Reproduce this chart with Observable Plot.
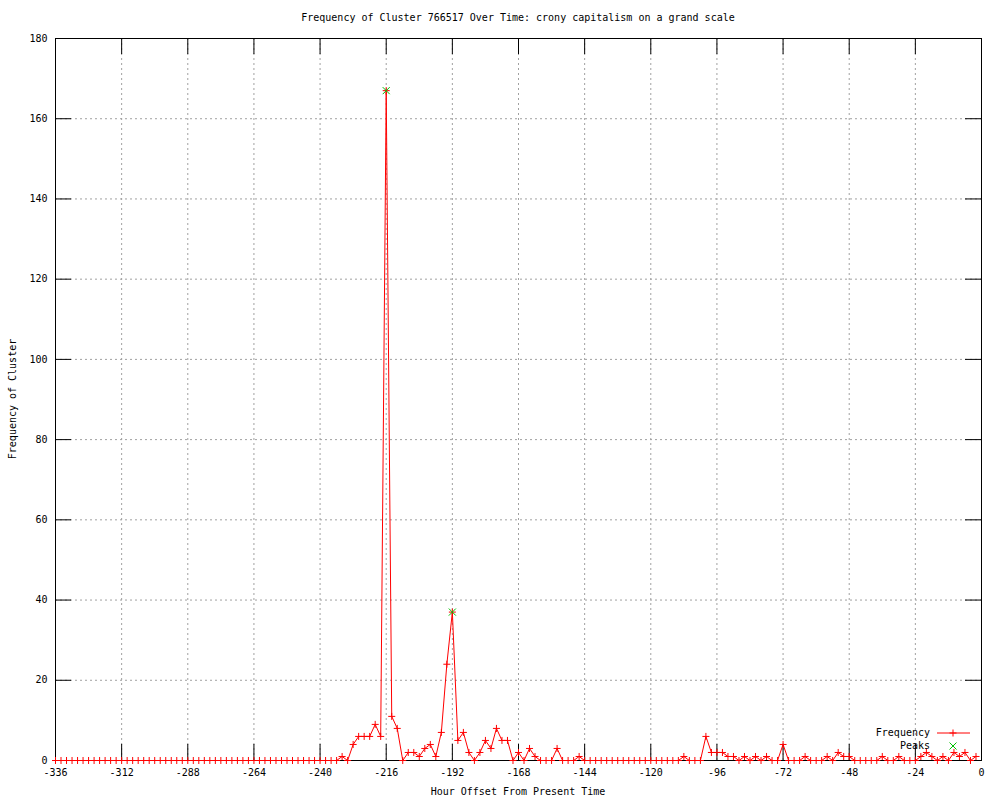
<!DOCTYPE html>
<html>
<head>
<meta charset="utf-8">
<script src="https://cdn.jsdelivr.net/npm/d3@7"></script>
<script src="https://cdn.jsdelivr.net/npm/@observablehq/plot@0.6"></script>
<style>
  html, body { margin: 0; padding: 0; background: #fff; }
  #chart svg { display: block; }
</style>
</head>
<body>
<div id="chart"></div>
<script>
const titleText = "Frequency of Cluster 766517 Over Time: crony capitalism on a grand scale";
const xLabel = "Hour Offset From Present Time";
const yLabel = "Frequency of Cluster";

const hours = [
  -336,-334,-332,-330,-328,-326,-324,-322,-320,-318,-316,-314,
  -312,-310,-308,-306,-304,-302,-300,-298,-296,-294,-292,-290,
  -288,-286,-284,-282,-280,-278,-276,-274,-272,-270,-268,-266,
  -264,-262,-260,-258,-256,-254,-252,-250,-248,-246,-244,-242,
  -240,-238,-236,-234,-232,-230,-228,-226,-224,-222,-220,-218,
  -216,-214,-212,-210,-208,-206,-204,-202,-200,-198,-196,-194,
  -192,-190,-188,-186,-184,-182,-180,-178,-176,-174,-172,-170,
  -168,-166,-164,-162,-160,-158,-156,-154,-152,-150,-148,-146,
  -144,-142,-140,-138,-136,-134,-132,-130,-128,-126,-124,-122,
  -120,-118,-116,-114,-112,-110,-108,-106,-104,-102,-100,-98,
  -96,-94,-92,-90,-88,-86,-84,-82,-80,-78,-76,-74,
  -72,-70,-68,-66,-64,-62,-60,-58,-56,-54,-52,-50,
  -48,-46,-44,-42,-40,-38,-36,-34,-32,-30,-28,-26,
  -24,-22,-20,-18,-16,-14,-12,-10,-8,-6,-4,-2
];
const frequency = [
  0,0,0,0,0,0,0,0,0,0,0,0,
  0,0,0,0,0,0,0,0,0,0,0,0,
  0,0,0,0,0,0,0,0,0,0,0,0,
  0,0,0,0,0,0,0,0,0,0,0,0,
  0,0,0,0,1,0,4,6,6,6,9,6,
  167,11,8,0,2,2,1,3,4,1,7,24,
  37,5,7,2,0,2,5,3,8,5,5,0,
  2,0,3,1,0,0,0,3,0,0,0,1,
  0,0,0,0,0,0,0,0,0,0,0,0,
  0,0,0,0,0,0,1,0,0,0,6,2,
  2,2,1,1,0,1,0,1,0,1,0,0,
  4,0,0,0,1,0,0,0,1,0,2,1,
  1,0,0,0,0,0,1,0,0,1,0,0,
  0,1,2,1,0,1,0,2,1,2,0,1
];
const peakHours = [-216, -192];
const peakValues = [167, 37];

const xTicks = [-336,-312,-288,-264,-240,-216,-192,-168,-144,-120,-96,-72,-48,-24,0];
const yTicks = [0,20,40,60,80,100,120,140,160,180];

const series = hours.map((h, i) => ({hour: h, freq: frequency[i]}));
const peaks = peakHours.map((h, i) => ({hour: h, freq: peakValues[i]}));

const W = 1000, H = 800;
const mL = 55, mR = 19, mT = 38, mB = 40;
const fw = W - mL - mR, fh = H - mT - mB;
const tickLen = 16;
const FONT = "'DejaVu Sans Mono', 'Liberation Mono', monospace";
const gridStyle = {stroke: "#a0a0a0", strokeOpacity: 1, strokeDasharray: "2,3", strokeWidth: 1};

const chart = Plot.plot({
  width: W, height: H,
  marginLeft: mL, marginRight: mR, marginTop: mT, marginBottom: mB,
  style: {fontFamily: FONT, fontSize: "10px", color: "#000", background: "#fff"},
  x: {domain: [-336, 0]},
  y: {domain: [0, 180]},
  marks: [
    Plot.gridX(xTicks, gridStyle),
    Plot.gridY(yTicks, gridStyle),
    Plot.ruleX(xTicks, {stroke: "#000", insetBottom: fh - tickLen}),
    Plot.ruleX(xTicks, {stroke: "#000", insetTop: fh - tickLen}),
    Plot.ruleY(yTicks, {stroke: "#000", insetRight: fw - tickLen}),
    Plot.ruleY(yTicks, {stroke: "#000", insetLeft: fw - tickLen}),
    Plot.frame({stroke: "#000", strokeWidth: 1}),
    Plot.axisX(xTicks, {tickSize: 0, tickPadding: 8, tickFormat: d => String(d), label: null, fill: "#000"}),
    Plot.axisY(yTicks, {tickSize: 0, tickPadding: 8, tickFormat: d => String(d), label: null, fill: "#000"}),
    Plot.line(series, {x: "hour", y: "freq", stroke: "#ff0000", strokeWidth: 1}),
    Plot.dot(series, {x: "hour", y: "freq", symbol: "plus", r: 2.4, stroke: "#ff0000", strokeWidth: 1}),
    Plot.dot(peaks, {x: "hour", y: "freq", symbol: "times", r: 3.3, stroke: "#00c000", strokeWidth: 1})
  ]
});

document.getElementById("chart").appendChild(chart);

// Title, axis labels and legend
const svg = d3.select(chart);
const cx = mL + fw / 2;
const txt = (x, y, s, anchor) => svg.append("text")
  .attr("x", x).attr("y", y).attr("dy", "0.32em")
  .attr("text-anchor", anchor || "middle")
  .attr("font-family", FONT).attr("font-size", 10).attr("fill", "#000")
  .text(s);

txt(cx, 18, titleText);
txt(cx, 792, xLabel);
svg.append("text")
  .attr("transform", `translate(13,${mT + fh / 2}) rotate(-90)`)
  .attr("dy", "0.32em").attr("text-anchor", "middle")
  .attr("font-family", FONT).attr("font-size", 10).attr("fill", "#000")
  .text(yLabel);

const legRight = mL + fw - 51;
const legY1 = H - mB - 27, legY2 = H - mB - 14;
txt(legRight, legY1, "Frequency", "end");
txt(legRight, legY2, "Peaks", "end");
const lx = legRight + 23;
svg.append("line").attr("x1", lx - 16).attr("x2", lx + 17).attr("y1", legY1).attr("y2", legY1)
  .attr("stroke", "#ff0000");
svg.append("path").attr("d", `M${lx - 3.5},${legY1}h7M${lx},${legY1 - 3.5}v7`).attr("stroke", "#ff0000").attr("fill", "none");
svg.append("path").attr("d", `M${lx - 3.5},${legY2 - 3.5}l7,7M${lx - 3.5},${legY2 + 3.5}l7,-7`).attr("stroke", "#00c000").attr("fill", "none");
</script>
</body>
</html>
